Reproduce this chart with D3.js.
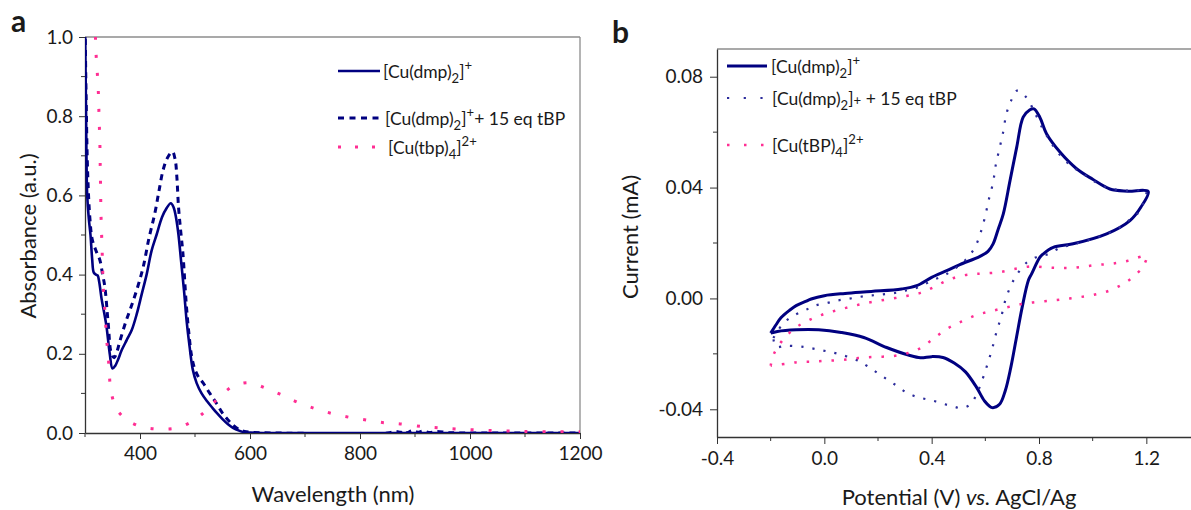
<!DOCTYPE html>
<meta charset="utf-8">
<script src="https://cdn.jsdelivr.net/npm/d3@7"></script>
<style>
  body { margin: 0; background: #fff; }
  text { font-family: Lato, "Open Sans", sans-serif; fill: #1a1a1a; }
</style>
<body>
<script>
// ---- panel a : UV-vis spectra (wavelength nm, absorbance) ----
var uvDmp = [[300,1.05],[302,0.8],[304,0.6],[307,0.54],[310,0.5],[313,0.44],[316,0.405],[320,0.4],[323,0.398],[326,0.38],[330,0.34],
  [334,0.31],[339,0.27],[345,0.2],[350,0.163],[355,0.17],[360,0.185],[367,0.21],[376,0.235],[385,0.26],[394,0.3],[403,0.35],
  [412,0.4],[421,0.46],[430,0.5],[440,0.545],[448,0.567],[456,0.58],[461,0.57],[466,0.54],[470,0.5],[475,0.43],[480,0.36],
  [485,0.28],[490,0.22],[496,0.16],[503,0.126],[512,0.1],[522,0.08],[532,0.063],[540,0.05],[550,0.035],[560,0.022],[569,0.013],
  [580,0.006],[590,0.002],[600,0.001],[650,0],[1200,0]];
var uvDmpTbp = [[300,1.05],[302,0.85],[305,0.65],[309,0.54],[313,0.49],[320,0.46],[327,0.437],[332,0.4],[336,0.37],[342,0.28],
  [348,0.2],[353,0.19],[358,0.205],[363,0.23],[374,0.28],[385,0.323],[396,0.37],[406,0.42],[416,0.49],[427,0.555],[435,0.615],
  [442,0.664],[450,0.695],[459,0.71],[464,0.69],[467,0.647],[470,0.571],[474,0.51],[478,0.454],[484,0.328],[489,0.25],[494,0.193],
  [500,0.16],[507,0.14],[515,0.126],[527,0.1],[539,0.075],[550,0.05],[560,0.033],[569,0.02],[580,0.009],[590,0.004],[600,0.002],
  [650,0],[850,0],[865,0.004],[875,0.002],[880,0.008],[885,0.001],[895,0.006],[905,0.002],[915,0.005],[925,0.001],[940,0.004],
  [960,0.001],[1000,0],[1200,0]];
var uvCuTbp = [[319,1.0],[320,0.96],[322,0.917],[324,0.87],[325,0.826],[326,0.78],[327,0.735],[327.5,0.69],[328,0.65],[328.5,0.6],
  [329,0.556],[330,0.51],[331,0.468],[332,0.42],[333,0.375],[335,0.33],[337,0.29],[339,0.24],[342,0.2],[344,0.155],[347,0.108],
  [356,0.064],[366,0.045],[379,0.03],[404,0.015],[435,0.01],[468,0.013],[499,0.033],[521,0.058],[544,0.09],[568,0.117],[597,0.127],
  [629,0.113],[658,0.096],[686,0.078],[717,0.062],[747,0.05],[779,0.04],[811,0.033],[843,0.026],[873,0.023],[916,0.016],
  [945,0.013],[974,0.01],[1007,0.008],[1040,0.006],[1070,0.005],[1100,0.004],[1150,0.003],[1200,0.003]];
var uvXTicks = [400, 600, 800, 1000, 1200],
    uvXMinor = [300, 500, 700, 900, 1100],
    uvYTicks = [0, 0.2, 0.4, 0.6, 0.8, 1.0],
    uvYMinor = [0.1, 0.3, 0.5, 0.7, 0.9];

// ---- panel b : cyclic voltammetry (potential V, current mA) ----
var cvDmp = [[-0.2,-0.0125],[-0.18,-0.0095],[-0.161,-0.0069],[-0.13,-0.0043],[-0.105,-0.0026],[-0.07,-0.0011],[-0.049,-0.0002],
  [0.0,0.001],[0.077,0.0018],[0.175,0.0025],[0.288,0.0034],[0.344,0.0046],[0.4,0.0076],[0.456,0.01],[0.505,0.0122],[0.58,0.0152],
  [0.61,0.017],[0.629,0.0197],[0.648,0.025],[0.667,0.0305],[0.692,0.0425],[0.717,0.0546],[0.741,0.0654],[0.765,0.068],[0.781,0.0684],
  [0.803,0.0654],[0.828,0.0594],[0.878,0.0528],[0.94,0.0468],[1.0,0.043],[1.064,0.0395],[1.13,0.0387],[1.207,0.0386],
  [1.18,0.033],[1.139,0.0281],[1.052,0.0233],[0.927,0.0197],[0.853,0.0184],[0.815,0.016],[0.803,0.0148],[0.772,0.0088],[0.76,0.0064],
  [0.737,-0.0033],[0.716,-0.0141],[0.695,-0.0249],[0.674,-0.0334],[0.653,-0.0382],[0.625,-0.0394],[0.597,-0.037],[0.568,-0.0322],
  [0.526,-0.0265],[0.484,-0.0233],[0.442,-0.0213],[0.4,-0.021],[0.358,-0.0214],[0.316,-0.0205],[0.232,-0.0177],[0.147,-0.0141],
  [0.063,-0.0123],[-0.021,-0.0113],[-0.105,-0.0113],[-0.175,-0.0119],[-0.2,-0.0125]];
var cvDmpTbp = [[-0.19,-0.0143],[-0.153,-0.009],[-0.109,-0.0059],[-0.066,-0.004],[-0.035,-0.0026],[0.009,-0.0017],[0.046,-0.0008],
  [0.086,-0.0002],[0.123,0.0004],[0.16,0.001],[0.195,0.0012],[0.232,0.0016],[0.27,0.0021],[0.302,0.0028],[0.35,0.004],[0.4,0.0064],
  [0.456,0.0088],[0.526,0.0139],[0.561,0.0184],[0.582,0.0236],[0.599,0.0295],[0.613,0.0357],[0.629,0.0419],[0.639,0.0482],
  [0.653,0.0542],[0.667,0.0603],[0.678,0.0664],[0.695,0.0711],[0.719,0.075],[0.755,0.0723],[0.786,0.0666],[0.814,0.0612],
  [0.842,0.0566],[0.877,0.0519],[0.919,0.0479],[0.968,0.0447],[1.018,0.0416],[1.067,0.0397],[1.123,0.0389],[1.182,0.0391],[1.2,0.039],
  [1.17,0.031],[1.13,0.0278],[1.09,0.025],[1.05,0.0232],[1.01,0.0218],[0.968,0.0206],[0.923,0.0194],[0.877,0.0182],[0.835,0.016],
  [0.793,0.015],[0.755,0.013],[0.719,0.0088],[0.698,0.0052],[0.676,-0.0002],[0.66,-0.0063],[0.641,-0.0123],[0.625,-0.0183],
  [0.608,-0.0237],[0.592,-0.0285],[0.57,-0.034],[0.545,-0.0382],[0.512,-0.0396],[0.484,-0.0391],[0.45,-0.0382],[0.416,-0.0372],
  [0.381,-0.0364],[0.344,-0.0355],[0.307,-0.034],[0.27,-0.0315],[0.232,-0.0291],[0.195,-0.0267],[0.158,-0.0243],[0.127,-0.0225],
  [0.056,-0.0201],[-0.01,-0.0187],[-0.078,-0.0175],[-0.146,-0.0171],[-0.18,-0.0175],[-0.19,-0.0143]];
var cvCuTbp = [[-0.2,-0.0243],[-0.19,-0.0205],[-0.159,-0.0155],[-0.109,-0.0107],[-0.06,-0.008],[-0.012,-0.006],[0.034,-0.0046],
  [0.081,-0.0034],[0.127,-0.0023],[0.182,-0.0012],[0.245,-0.0002],[0.307,0.0009],[0.359,0.002],[0.406,0.004],[0.456,0.0064],
  [0.503,0.008],[0.555,0.0088],[0.595,0.009],[0.654,0.0095],[0.717,0.0108],[0.776,0.0116],[0.826,0.0112],[0.872,0.011],[0.919,0.011],
  [0.967,0.0115],[1.017,0.0121],[1.07,0.0125],[1.132,0.0136],[1.2,0.0152],[1.188,0.0116],[1.149,0.0076],[1.113,0.0052],[1.067,0.003],
  [1.018,0.0016],[0.968,0.0007],[0.916,0],[0.863,-0.0006],[0.8,-0.0012],[0.737,-0.002],[0.68,-0.0032],[0.618,-0.0047],[0.566,-0.006],
  [0.512,-0.0083],[0.462,-0.0107],[0.409,-0.0143],[0.363,-0.0177],[0.313,-0.0197],[0.255,-0.0208],[0.189,-0.0211],[0.127,-0.0215],
  [0.065,-0.0222],[0.006,-0.0225],[-0.041,-0.0228],[-0.09,-0.0229],[-0.138,-0.0235],[-0.2,-0.0243]];
var cvXTicks = [-0.4, 0.0, 0.4, 0.8, 1.2],
    cvXMinor = [-0.2, 0.2, 0.6, 1.0, 1.4],
    cvYTicks = [-0.04, 0.0, 0.04, 0.08],
    cvYMinor = [-0.02, 0.02, 0.06];

var navy = "#000080", navyDot = "#2b2b9b", pink = "#ff2e93";

var svg = d3.select("body").append("svg")
  .attr("width", 1191).attr("height", 510);

function richText(g, x, y, parts, size) {
  var t = g.append("text").attr("x", x).attr("y", y).attr("font-size", size);
  var shift = 0;
  parts.forEach(function (p) {
    var target = p[1] == "sub" ? size * 0.3 : p[1] == "sup" ? -size * 0.45 : 0;
    t.append("tspan").attr("dy", target - shift)
      .attr("font-size", p[1] == "n" ? size : size * 0.75).text(p[0]);
    shift = target;
  });
  return t;
}

function panel(o) {
  var g = svg.append("g");
  var x = d3.scaleLinear().domain(o.xDom).range(o.xRange);
  var y = d3.scaleLinear().domain(o.yDom).range(o.yRange);

  g.append("clipPath").attr("id", o.id + "clip").append("rect")
    .attr("x", o.xRange[0]).attr("y", o.yRange[1])
    .attr("width", o.xRange[1] - o.xRange[0]).attr("height", o.yRange[0] - o.yRange[1]);

  // frame top/right
  g.append("line").attr("x1", o.xRange[0]).attr("x2", o.xRange[1])
    .attr("y1", o.yRange[1]).attr("y2", o.yRange[1]).attr("stroke", "#8c8c8c").attr("stroke-width", 1.3);
  g.append("line").attr("x1", o.xRange[1]).attr("x2", o.xRange[1])
    .attr("y1", o.yRange[1]).attr("y2", o.yRange[0]).attr("stroke", "#8c8c8c").attr("stroke-width", 1.3);

  var xAxis = g.append("g").attr("transform", "translate(0," + o.yRange[0] + ")")
    .call(d3.axisBottom(x).tickValues(o.xTicks).tickSize(o.tick).tickPadding(o.xPad).tickSizeOuter(0).tickFormat(o.xFmt));
  xAxis.selectAll(".minor").data(o.xMinor).enter().append("line")
    .attr("x1", function (d) { return x(d); }).attr("x2", function (d) { return x(d); })
    .attr("y2", 4).attr("stroke", "#333");
  var yAxis = g.append("g").attr("transform", "translate(" + o.xRange[0] + ",0)")
    .call(d3.axisLeft(y).tickValues(o.yTicks).tickSize(o.tick).tickPadding(o.yPad).tickSizeOuter(0).tickFormat(o.yFmt));
  yAxis.selectAll(".minor").data(o.yMinor).enter().append("line")
    .attr("y1", function (d) { return y(d); }).attr("y2", function (d) { return y(d); })
    .attr("x2", -4).attr("stroke", "#333");
  g.selectAll(".domain").attr("stroke", "#333").attr("stroke-width", 1.3);
  g.selectAll(".tick line").attr("stroke", "#333");
  g.selectAll(".tick text").attr("font-size", 19).attr("font-family", "Lato, sans-serif").attr("fill", "#1a1a1a");

  var line = d3.line().x(function (d) { return x(d[0]); }).y(function (d) { return y(d[1]); })
    .curve(d3.curveCatmullRom.alpha(0.5));
  var plot = g.append("g").attr("clip-path", "url(#" + o.id + "clip)");
  o.series.forEach(function (s) {
    plot.append("path").datum(s.data).attr("d", line).attr("fill", "none")
      .attr("stroke", s.color).attr("stroke-width", s.width)
      .attr("stroke-dasharray", s.dash || null).attr("stroke-linejoin", "round");
  });

  // legend
  o.series.forEach(function (s, i) {
    var L = o.legend[i];
    g.append("line").attr("x1", L.x1).attr("x2", L.x2).attr("y1", L.y).attr("y2", L.y)
      .attr("stroke", s.color).attr("stroke-width", s.legendWidth || s.width)
      .attr("stroke-dasharray", s.legendDash || s.dash || null);
    richText(g, L.tx, L.y + 7, L.parts, 17.5);
  });

  g.append("text").attr("x", o.titleX[0]).attr("y", o.titleX[1]).attr("text-anchor", "middle")
    .attr("font-size", 22).html(o.xTitle);
  g.append("text").attr("transform", "translate(" + o.titleY[0] + "," + o.titleY[1] + ") rotate(-90)")
    .attr("text-anchor", "middle").attr("dominant-baseline", "central").attr("font-size", 22).text(o.yTitle);
  g.append("text").attr("x", o.tag[0]).attr("y", o.tag[1]).attr("font-size", 30)
    .attr("font-weight", "bold").text(o.tagText);
}

panel({
  id: "a", xDom: [300, 1200], xRange: [85, 580], yDom: [0, 1], yRange: [433, 37],
  xTicks: uvXTicks, xMinor: uvXMinor, yTicks: uvYTicks, yMinor: uvYMinor,
  tick: 6, xPad: 8, yPad: 6,
  xFmt: function (d) { return String(d); }, yFmt: function (d) { return d.toFixed(1); },
  series: [
    { data: uvDmp, color: navy, width: 2.6 },
    { data: uvDmpTbp, color: navy, width: 3, dash: "6,5", legendDash: "6,5.5" },
    { data: uvCuTbp, color: pink, width: 3, dash: "3,15", legendDash: "3,14" }
  ],
  legend: [
    { x1: 338, x2: 380, y: 71, tx: 383, parts: [["[Cu(dmp)", "n"], ["2", "sub"], ["]", "n"], ["+", "sup"]] },
    { x1: 338, x2: 383, y: 118, tx: 385, parts: [["[Cu(dmp)", "n"], ["2", "sub"], ["]", "n"], ["+", "sup"], ["+ 15 eq tBP", "n"]] },
    { x1: 338, x2: 376, y: 147, tx: 388, parts: [["[Cu(tbp)", "n"], ["4", "sub"], ["]", "n"], ["2+", "sup"]] }
  ],
  xTitle: "Wavelength (nm)", titleX: [333, 502],
  yTitle: "Absorbance (a.u.)", titleY: [27, 236],
  tag: [11, 32], tagText: "a"
});

panel({
  id: "b", xDom: [-0.4, 1.4], xRange: [717, 1200], yDom: [-0.05, 0.09], yRange: [437, 49],
  xTicks: cvXTicks, xMinor: cvXMinor, yTicks: cvYTicks, yMinor: cvYMinor,
  tick: 7, xPad: 8, yPad: 7,
  xFmt: function (d) { return d.toFixed(1); }, yFmt: function (d) { return d.toFixed(2); },
  series: [
    { data: cvDmp, color: navy, width: 3 },
    { data: cvDmpTbp, color: navyDot, width: 2.2, dash: "2.2,9", legendDash: "2.2,14.5" },
    { data: cvCuTbp, color: pink, width: 2.5, dash: "2.5,10", legendDash: "2.5,14.5" }
  ],
  legend: [
    { x1: 727, x2: 767, y: 66, tx: 771, parts: [["[Cu(dmp)", "n"], ["2", "sub"], ["]", "n"], ["+", "sup"]] },
    { x1: 727, x2: 765, y: 98, tx: 772, parts: [["[Cu(dmp)", "n"], ["2", "sub"], ["]", "n"], ["+", "n2"], [" + 15 eq tBP", "n"]] },
    { x1: 727, x2: 765, y: 145, tx: 772, parts: [["[Cu(tBP)", "n"], ["4", "sub"], ["]", "n"], ["2+", "sup"]] }
  ],
  xTitle: "Potential (V) <tspan font-style=\"italic\">vs.</tspan> AgCl/Ag", titleX: [959, 505],
  yTitle: "Current (mA)", titleY: [629, 237],
  tag: [612, 43], tagText: "b"
});
</script>
</body>
</html>
